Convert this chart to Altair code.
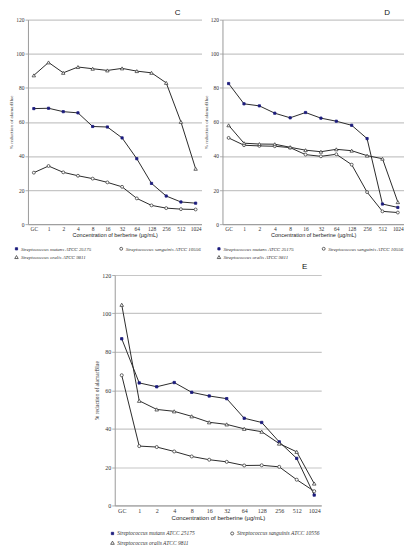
import altair as alt
import pandas as pd

cats = ["GC", "1", "2", "4", "8", "16", "32", "64", "128", "256", "512", "1024"]
series_names = [
    "Streptococcus mutans ATCC 25175",
    "Streptococcus sanguinis ATCC 10556",
    "Streptococcus oralis ATCC 9811",
]

# Panel C
c_mutans = [67.8, 68.0, 66.0, 65.3, 57.3, 57.0, 50.6, 38.4, 23.9, 16.5, 13.0, 12.3]
c_sanguinis = [30.2, 34.1, 30.4, 28.4, 26.7, 24.5, 21.9, 15.1, 11.0, 9.4, 8.8, 8.6]
c_oralis = [87.3, 94.9, 88.8, 92.2, 91.2, 90.2, 91.4, 89.8, 88.8, 82.9, 60.0, 32.5]

# Panel D
d_mutans = [82.5, 70.6, 69.4, 65.1, 62.4, 65.5, 62.2, 60.4, 58.0, 50.2, 11.8, 9.8]
d_sanguinis = [50.6, 46.3, 45.9, 45.7, 44.9, 40.8, 39.8, 41.0, 34.9, 18.8, 7.5, 6.8]
d_oralis = [58.0, 47.5, 47.0, 46.9, 45.1, 43.4, 42.5, 43.9, 43.1, 40.2, 38.4, 12.9]

# Panel E
e_mutans = [86.8, 63.8, 61.8, 64.0, 58.9, 57.0, 55.6, 45.4, 43.2, 33.1, 24.5, 5.4]
e_sanguinis = [67.8, 30.9, 30.4, 28.1, 25.5, 23.8, 22.7, 20.8, 20.9, 20.1, 13.4, 7.4]
e_oralis = [104.5, 54.5, 50.0, 49.0, 46.4, 43.3, 42.2, 39.9, 38.4, 32.2, 27.9, 11.4]

y_ticks = [0, 20, 40, 60, 80, 100, 120]


def make_df(mutans, sanguinis, oralis):
    rows = []
    for name, vals in zip(series_names, [mutans, sanguinis, oralis]):
        for i, (c, v) in enumerate(zip(cats, vals)):
            rows.append({"conc": c, "value": v, "series": name, "order": i})
    return pd.DataFrame(rows)


def panel(letter, mutans, sanguinis, oralis, w, h, title_dx, leg_x, leg_y,
          col_pad, fs=1.0):
    df = make_df(mutans, sanguinis, oralis)
    base = alt.Chart(df)
    x = alt.X(
        "conc:O",
        sort=cats,
        scale=alt.Scale(type="point", padding=0.4),
        axis=alt.Axis(
            title="Concentration of berberine (µg/mL)",
            labelAngle=0,
            ticks=False,
            grid=False,
            labelFont="Liberation Serif",
            labelFontSize=5.5 * fs,
            labelColor="#333333",
            labelPadding=2 * fs,
            titleFont="Liberation Sans",
            titleFontSize=5.5 * fs,
            titleFontWeight="normal",
            titleColor="#222222",
            titlePadding=1 * fs,
            domainColor="#9a9a9a",
        ),
    )
    y = alt.Y(
        "value:Q",
        scale=alt.Scale(domain=[0, 120], nice=False),
        axis=alt.Axis(
            title="% reduction of alamarBlue",
            values=y_ticks,
            grid=True,
            gridColor="#c6c6c6",
            gridWidth=1.2,
            tickSize=3,
            tickColor="#b0b0b0",
            labelFont="Liberation Serif",
            labelFontSize=5.5 * fs,
            labelColor="#333333",
            labelPadding=1,
            titleFont="Liberation Serif",
            titleFontSize=5 * fs,
            titleFontWeight="normal",
            titleColor="#333333",
            titlePadding=2,
            domainColor="#9a9a9a",
        ),
    )
    legend = alt.Legend(
        title=None,
        orient="none",
        legendX=leg_x,
        legendY=leg_y,
        direction="horizontal",
        columns=2,
        columnPadding=col_pad,
        rowPadding=1.5 * fs,
        labelFont="Liberation Serif",
        labelFontStyle="italic",
        labelFontSize=5 * fs,
        labelColor="#333333",
        labelOffset=2,
        labelLimit=200,
        symbolStrokeWidth=0.8,
    )
    lines = base.mark_line(color="#2b2b2b", strokeWidth=1).encode(
        x=x, y=y, detail="series:N", order="order:Q"
    )
    points = base.mark_point(strokeWidth=0.8, opacity=1).encode(
        x=x,
        y=y,
        shape=alt.Shape(
            "series:N",
            scale=alt.Scale(domain=series_names, range=["square", "circle", "triangle-up"]),
            legend=legend,
        ),
        fill=alt.Fill(
            "series:N",
            scale=alt.Scale(domain=series_names, range=["#1b1b7c", "#ffffff", "#ffffff"]),
            legend=legend,
        ),
        stroke=alt.Stroke(
            "series:N",
            scale=alt.Scale(domain=series_names, range=["#1b1b7c", "#404040", "#404040"]),
            legend=legend,
        ),
        size=alt.Size(
            "series:N",
            scale=alt.Scale(domain=series_names, range=[5 * fs, 12 * fs, 13 * fs]),
            legend=legend,
        ),
    )
    return alt.layer(lines, points).properties(
        width=w,
        height=h,
        title=alt.TitleParams(
            text=letter,
            anchor="end",
            frame="group",
            dx=title_dx,
            fontSize=8,
            font="Liberation Sans",
            fontWeight="normal",
            color="#111111",
            offset=1,
        ),
    )


pc = panel("C", c_mutans, c_sanguinis, c_oralis, 174, 205, -21, -14, 227, 26)
pd_ = panel("D", d_mutans, d_sanguinis, d_oralis, 182, 205, -14, -6, 227, 26)
pe = panel("E", e_mutans, e_sanguinis, e_oralis, 207, 231, -14, -5, 256, 33, fs=1.1)

spacer = (
    alt.Chart(pd.DataFrame({"v": [0]}))
    .mark_point(opacity=0)
    .properties(width=66, height=1)
)

top = alt.hconcat(pc, pd_, spacing=1).resolve_scale(
    shape="independent", fill="independent", stroke="independent", size="independent"
)
bottom = alt.hconcat(spacer, pe, spacing=0).resolve_scale(
    shape="independent", fill="independent", stroke="independent", size="independent"
)
chart = (
    alt.vconcat(top, bottom, spacing=2)
    .resolve_scale(shape="independent", fill="independent", stroke="independent", size="independent")
    .properties(padding=0)
    .configure_view(stroke=None)
)

chart.save("out.html", embed_options={"renderer": "svg", "actions": False})
